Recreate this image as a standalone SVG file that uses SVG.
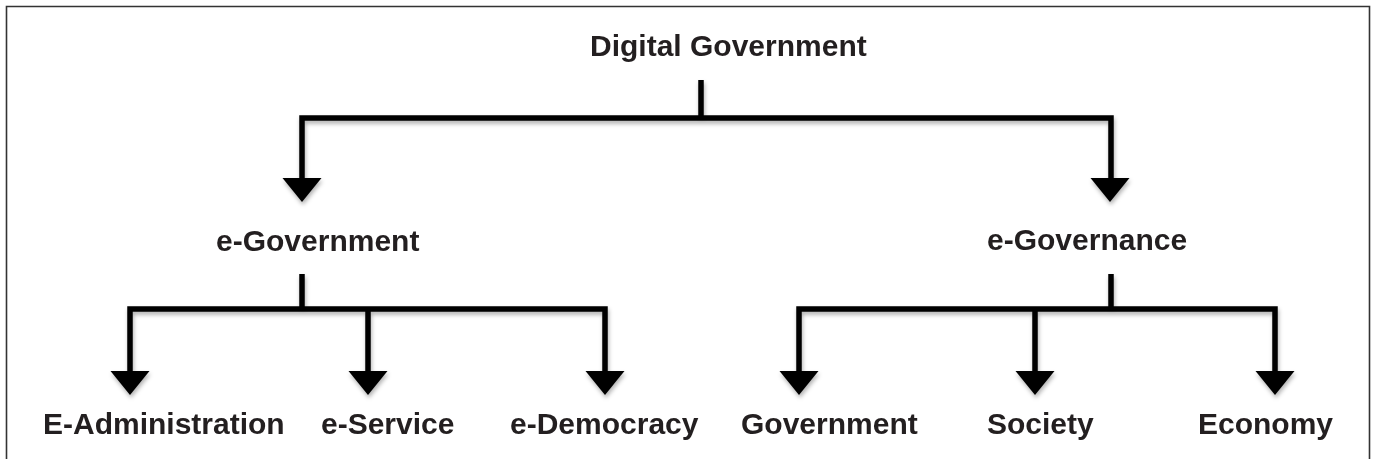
<svg xmlns="http://www.w3.org/2000/svg" width="1375" height="459" viewBox="0 0 1375 459">
  <style>
    .lbl { font-family: "Liberation Sans", Arial, sans-serif; font-weight: bold; font-size: 30px; fill: #231f20; }
    .ln { fill: none; stroke: #000; stroke-width: 5.5; stroke-linejoin: miter; }
    .ah { fill: #000; }
    .frame { fill: none; stroke: #333; stroke-width: 1.6; }
  </style>
  <defs>
    <filter id="sh" x="-10%" y="-10%" width="120%" height="140%">
      <feDropShadow dx="1" dy="3" stdDeviation="2" flood-color="#000" flood-opacity="0.3"/>
    </filter>
    <polygon id="arrow" points="-19.5,0 19.5,0 0,24"/>
  </defs>
  <rect width="1375" height="459" fill="#fff"/>
  <path class="frame" d="M6.5,470 V6.5 H1369.5 V470"/>

  <g id="connectors" filter="url(#sh)">
    <path class="ln" d="M701,80 V118"/>
    <path class="ln" d="M302,182 V118 H1111 V182"/>
    <use href="#arrow" class="ah" x="302" y="178"/>
    <use href="#arrow" class="ah" x="1110" y="178"/>

    <path class="ln" d="M302,274 V309"/>
    <path class="ln" d="M130,376 V309 H605 V376"/>
    <path class="ln" d="M368,309 V376"/>
    <use href="#arrow" class="ah" x="130" y="371"/>
    <use href="#arrow" class="ah" x="368" y="371"/>
    <use href="#arrow" class="ah" x="605" y="371"/>

    <path class="ln" d="M1111,274 V309"/>
    <path class="ln" d="M799,376 V309 H1275 V376"/>
    <path class="ln" d="M1035,309 V376"/>
    <use href="#arrow" class="ah" x="799" y="371"/>
    <use href="#arrow" class="ah" x="1035" y="371"/>
    <use href="#arrow" class="ah" x="1275" y="371"/>
  </g>

  <g id="node-digital-government"><text class="lbl" x="590" y="56">Digital Government</text></g>
  <g id="node-e-government"><text class="lbl" x="216" y="251">e-Government</text></g>
  <g id="node-e-governance"><text class="lbl" x="987" y="250">e-Governance</text></g>
  <g id="node-e-administration"><text class="lbl" x="43" y="434">E-Administration</text></g>
  <g id="node-e-service"><text class="lbl" x="321" y="434">e-Service</text></g>
  <g id="node-e-democracy"><text class="lbl" x="510" y="434">e-Democracy</text></g>
  <g id="node-government"><text class="lbl" x="741" y="434">Government</text></g>
  <g id="node-society"><text class="lbl" x="987" y="434">Society</text></g>
  <g id="node-economy"><text class="lbl" x="1198" y="434">Economy</text></g>
</svg>
